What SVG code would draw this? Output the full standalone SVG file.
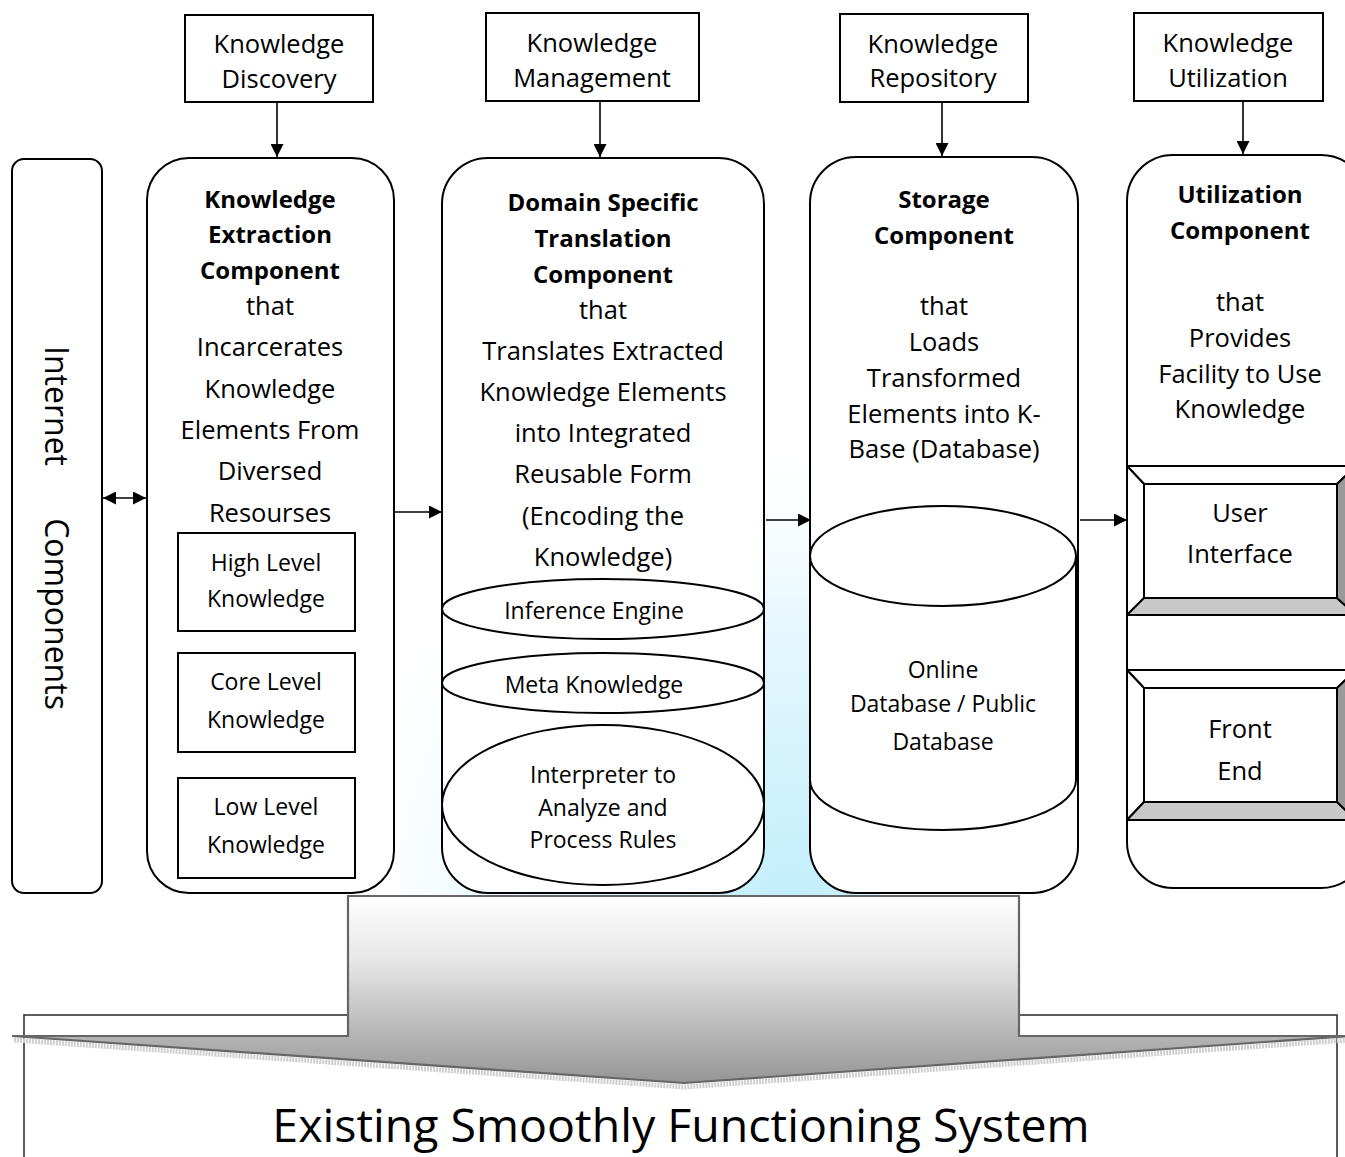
<svg xmlns="http://www.w3.org/2000/svg" width="1345" height="1157" viewBox="0 0 1345 1157">
<defs>
<style>
text{font-family:"Open Sans","Noto Sans",sans-serif;fill:#000;text-anchor:middle;dominant-baseline:central}
.t{font-size:25.5px}
.b{font-size:24px;font-weight:bold}
.s{font-size:23px}
.box{fill:#fff;stroke:#000;stroke-width:2}
.con{stroke:#000;stroke-width:1.6;fill:none}
</style>
<marker id="ah2" viewBox="0 0 10 10" refX="10" refY="5" markerWidth="13" markerHeight="13" markerUnits="userSpaceOnUse" orient="auto-start-reverse">
<path d="M0,0 L10,5 L0,10 Z" fill="#000"/>
</marker>
<radialGradient id="glow" cx="790" cy="900" r="480" gradientUnits="userSpaceOnUse">
<stop offset="0" stop-color="#c2eefc"/>
<stop offset="0.6" stop-color="#e8f8fe"/>
<stop offset="1" stop-color="#ffffff" stop-opacity="0"/>
</radialGradient>
<linearGradient id="arrowg" x1="0" y1="896" x2="0" y2="1083" gradientUnits="userSpaceOnUse">
<stop offset="0" stop-color="#ffffff"/>
<stop offset="0.35" stop-color="#e6e6e6"/>
<stop offset="1" stop-color="#959595"/>
</linearGradient>
</defs>
<rect width="1345" height="1157" fill="#fff"/>
<rect x="400" y="380" width="480" height="515" fill="url(#glow)"/>

<g id="top-discovery"><rect class="box" x="185" y="15" width="188" height="87"/><text class="t" x="279" y="43">Knowledge</text><text class="t" x="279" y="78">Discovery</text></g>
<g id="top-management"><rect class="box" x="486" y="13" width="213" height="88"/><text class="t" x="592" y="42">Knowledge</text><text class="t" x="592" y="77">Management</text></g>
<g id="top-repository"><rect class="box" x="840" y="14" width="188" height="88"/><text class="t" x="933" y="43">Knowledge</text><text class="t" x="933" y="77">Repository</text></g>
<g id="top-utilization"><rect class="box" x="1134" y="13" width="189" height="88"/><text class="t" x="1228" y="42">Knowledge</text><text class="t" x="1228" y="77">Utilization</text></g>

<g id="internet"><rect class="box" x="12" y="159" width="90" height="734" rx="12"/>
<text x="57" y="406" font-size="32" transform="rotate(90 57 406)">Internet</text>
<text x="57" y="614" font-size="32" transform="rotate(90 57 614)">Components</text></g>

<g id="extraction">
<rect class="box" x="147" y="158" width="247" height="735" rx="42"/>
<text class="b" x="270" y="198">Knowledge</text><text class="b" x="270" y="233">Extraction</text><text class="b" x="270" y="269">Component</text>
<text class="t" x="270" y="305">that</text><text class="t" x="270" y="346">Incarcerates</text><text class="t" x="270" y="388">Knowledge</text><text class="t" x="270" y="429">Elements From</text><text class="t" x="270" y="470">Diversed</text><text class="t" x="270" y="512">Resourses</text>
</g>
<g id="high-level"><rect class="box" x="178" y="533" width="177" height="98"/><text class="s" x="266" y="562">High Level</text><text class="s" x="266" y="598">Knowledge</text></g>
<g id="core-level"><rect class="box" x="178" y="653" width="177" height="99"/><text class="s" x="266" y="681">Core Level</text><text class="s" x="266" y="719">Knowledge</text></g>
<g id="low-level"><rect class="box" x="178" y="778" width="177" height="100"/><text class="s" x="266" y="806">Low Level</text><text class="s" x="266" y="844">Knowledge</text></g>

<g id="translation">
<rect class="box" x="442" y="158" width="322" height="735" rx="46"/>
<text class="b" x="603" y="201">Domain Specific</text><text class="b" x="603" y="237">Translation</text><text class="b" x="603" y="273">Component</text>
<text class="t" x="603" y="309">that</text><text class="t" x="603" y="350">Translates Extracted</text><text class="t" x="603" y="391">Knowledge Elements</text><text class="t" x="603" y="432">into Integrated</text><text class="t" x="603" y="473">Reusable Form</text><text class="t" x="603" y="515">(Encoding the</text><text class="t" x="603" y="556">Knowledge)</text>
</g>
<g id="inference"><ellipse class="box" cx="603" cy="609" rx="161" ry="30"/><text class="s" x="594" y="610">Inference Engine</text></g>
<g id="meta"><ellipse class="box" cx="603" cy="683" rx="161" ry="30"/><text class="s" x="594" y="684">Meta Knowledge</text></g>
<g id="interpreter"><ellipse class="box" cx="603" cy="805" rx="161" ry="80"/><text class="s" x="603" y="774">Interpreter to</text><text class="s" x="603" y="807">Analyze and</text><text class="s" x="603" y="839">Process Rules</text></g>

<g id="storage">
<rect class="box" x="810" y="157" width="268" height="736" rx="46"/>
<text class="b" x="944" y="198">Storage</text><text class="b" x="944" y="234">Component</text>
<text class="t" x="944" y="305">that</text><text class="t" x="944" y="341">Loads</text><text class="t" x="944" y="377">Transformed</text><text class="t" x="944" y="413">Elements into K-</text><text class="t" x="944" y="448">Base (Database)</text>
</g>
<g id="database">
<path class="box" d="M810,556 A133,50 0 0,1 1076,556 L1076,780 A133,50 0 0,1 810,780 Z"/>
<path class="con" style="stroke-width:2" d="M810,556 A133,50 0 0,0 1076,556"/>
<text class="s" x="943" y="669">Online</text><text class="s" x="943" y="703">Database / Public</text><text class="s" x="943" y="741">Database</text>
</g>

<g id="utilization">
<rect class="box" x="1127" y="155" width="240" height="733" rx="46"/>
<text class="b" x="1240" y="193">Utilization</text><text class="b" x="1240" y="229">Component</text>
<text class="t" x="1240" y="301">that</text><text class="t" x="1240" y="337">Provides</text><text class="t" x="1240" y="373">Facility to Use</text><text class="t" x="1240" y="408">Knowledge</text>
</g>
<g id="user-interface" stroke="#000" stroke-width="2" stroke-linejoin="round">
<path d="M1127,466 H1356 L1337,484 H1144 Z" fill="#fff"/>
<path d="M1127,466 L1144,484 V598 L1127,615 Z" fill="#fff"/>
<path d="M1127,615 L1144,598 H1337 L1356,615 Z" fill="#c8c8c8"/>
<path d="M1356,466 L1337,484 V598 L1356,615 Z" fill="#999"/>
<rect x="1144" y="484" width="193" height="114" fill="#fff"/>
<text class="t" stroke="none" x="1240" y="512">User</text><text class="t" stroke="none" x="1240" y="553">Interface</text>
</g>
<g id="front-end" stroke="#000" stroke-width="2" stroke-linejoin="round">
<path d="M1127,670 H1356 L1337,688 H1144 Z" fill="#fff"/>
<path d="M1127,670 L1144,688 V802 L1127,820 Z" fill="#fff"/>
<path d="M1127,820 L1144,802 H1337 L1356,820 Z" fill="#c8c8c8"/>
<path d="M1356,670 L1337,688 V802 L1356,820 Z" fill="#999"/>
<rect x="1144" y="688" width="193" height="114" fill="#fff"/>
<text class="t" stroke="none" x="1240" y="728">Front</text><text class="t" stroke="none" x="1240" y="770">End</text>
</g>

<g id="existing-system">
<rect x="24" y="1015" width="1313" height="160" fill="#fff" stroke="#333" stroke-width="1.6"/>
<text x="681" y="1124" font-size="46.5">Existing Smoothly Functioning System</text>
</g>
<g id="big-arrow">
<path d="M14,1040 L684,1087 L1348,1040" fill="none" stroke="#cfcfcf" stroke-width="5" stroke-dasharray="2 1"/>
<path d="M348,896 H1019 V1036 H1350 L684,1083 L12,1036 H348 Z" fill="url(#arrowg)" stroke="#666" stroke-width="2.2" stroke-linejoin="miter"/>
</g>

<g id="connectors">
<line class="con" x1="277" y1="102" x2="277" y2="157" marker-end="url(#ah2)"/>
<line class="con" x1="600" y1="101" x2="600" y2="157" marker-end="url(#ah2)"/>
<line class="con" x1="942" y1="102" x2="942" y2="156" marker-end="url(#ah2)"/>
<line class="con" x1="1243" y1="101" x2="1243" y2="154" marker-end="url(#ah2)"/>
<line class="con" x1="103" y1="498" x2="146" y2="498" marker-start="url(#ah2)" marker-end="url(#ah2)"/>
<line class="con" x1="395" y1="512" x2="442" y2="512" marker-end="url(#ah2)"/>
<line class="con" x1="766" y1="520" x2="811" y2="520" marker-end="url(#ah2)"/>
<line class="con" x1="1080" y1="520" x2="1127" y2="520" marker-end="url(#ah2)"/>
</g>
</svg>
